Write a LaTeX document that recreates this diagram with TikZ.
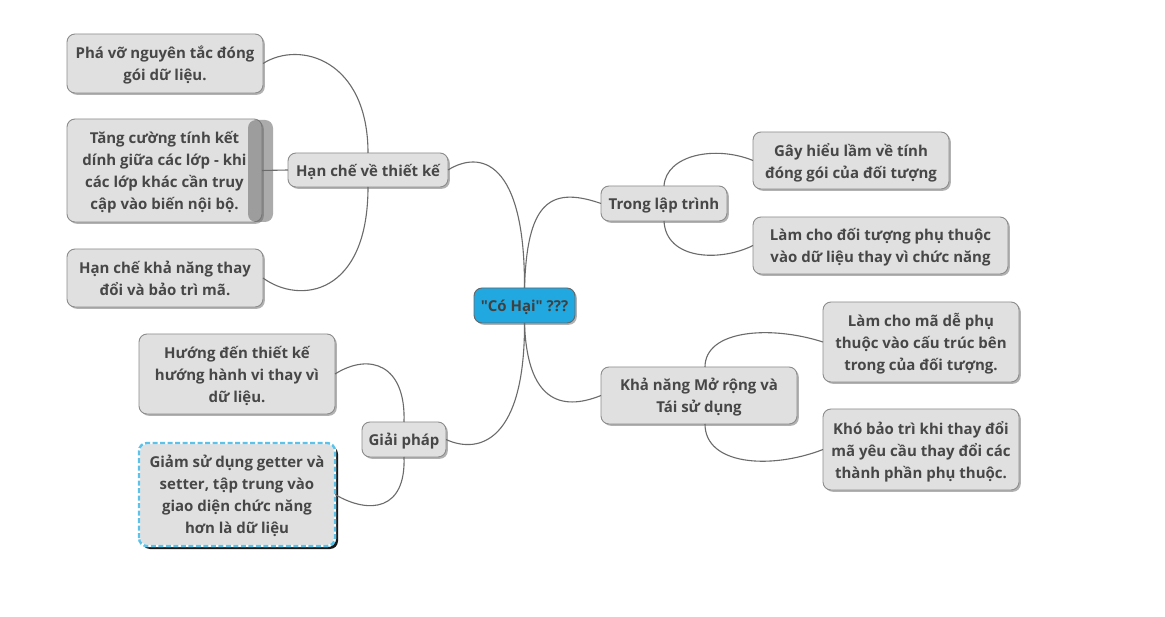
\documentclass[tikz,border=0pt]{standalone}
\usepackage{fontspec}
\setmainfont{Open Sans}[Ligatures=TeXOff]
\usetikzlibrary{shadows}
\definecolor{boxfill}{HTML}{E0E0E0}
\definecolor{boxline}{HTML}{8C8C8C}
\definecolor{txt}{HTML}{474747}
\definecolor{edgecol}{HTML}{6B6B6B}
\definecolor{rootfill}{HTML}{22A8E0}
\definecolor{selblue}{HTML}{5BC3EA}
\begin{document}
\begin{tikzpicture}[x=1pt,y=-1pt,
  box/.style={draw=boxline, line width=0.9pt, fill=boxfill, rounded corners=8pt,
    text=txt, font=\fontsize{15}{22}\selectfont\bfseries, align=center,
    inner sep=0pt, outer sep=0pt, text depth=0pt,
    drop shadow={shadow xshift=1.8pt, shadow yshift=-1.8pt, opacity=0.3, fill=black}},
  conn/.style={draw=edgecol, line width=1.1pt}]
\fill[white] (0,0) rectangle (1165,617);
\useasboundingbox (0,0) rectangle (1165,617);

\node[box, fill=rootfill, draw=black!60, minimum width=101pt, minimum height=35pt, text=black!75] (root) at (524.5,305.5) {"Có Hại" ???};
\node[box, minimum width=160pt, minimum height=34pt] (han) at (368,170) {Hạn chế về thiết kế};
\node[box, minimum width=196pt, minimum height=59pt] (pha) at (165,63.5) {Phá vỡ nguyên tắc đóng\\gói dữ liệu.};
\node[box, minimum width=195pt, minimum height=103pt] (tang) at (164.5,170.5) {Tăng cường tính kết\\dính giữa các lớp - khi\\các lớp khác cần truy\\cập vào biến nội bộ.};
\node[box, minimum width=196pt, minimum height=58pt] (hanche) at (165,278) {Hạn chế khả năng thay\\đổi và bảo trì mã.};
\node[box, minimum width=126pt, minimum height=35pt] (trong) at (664,203.5) {Trong lập trình};
\node[box, minimum width=196pt, minimum height=57pt] (gay) at (851,160.5) {Gây hiểu lầm về tính\\đóng gói của đối tượng};
\node[box, minimum width=255pt, minimum height=57pt] (lam) at (880.5,245.5) {Làm cho đối tượng phụ thuộc\\vào dữ liệu thay vì chức năng};
\node[box, minimum width=196pt, minimum height=57pt] (kha) at (699,395.5) {Khả năng Mở rộng và\\Tái sử dụng};
\node[box, minimum width=196pt, minimum height=80pt] (lamma) at (921,342) {Làm cho mã dễ phụ\\thuộc vào cấu trúc bên\\trong của đối tượng.};
\node[box, minimum width=196pt, minimum height=81pt] (kho) at (921,449.5) {Khó bảo trì khi thay đổi\\mã yêu cầu thay đổi các\\thành phần phụ thuộc.};
\node[box, minimum width=84pt, minimum height=35pt] (giai) at (404,439.5) {Giải pháp};
\node[box, minimum width=196pt, minimum height=80pt] (huong) at (237,374) {Hướng đến thiết kế\\hướng hành vi thay vì\\dữ liệu.};
\node[box, draw=white, line width=2.4pt, minimum width=196pt, minimum height=103pt,
  drop shadow={shadow xshift=3pt, shadow yshift=-3pt, opacity=1, fill=black!90}] (giam) at (237,494.5) {Giảm sử dụng getter và\\setter, tập trung vào\\giao diện chức năng\\hơn là dữ liệu};
\draw[selblue, line width=2.4pt, dash pattern=on 5pt off 2.5pt, rounded corners=8pt] (giam.south west) rectangle (giam.north east);

% selection band on "Tang cuong" node
\fill[black!60, opacity=0.55, rounded corners=8pt] (248,120) rectangle (273,222);

% connectors
\draw[conn] (root.north) .. controls (525,160) and (480,150) .. (han.east);
\draw[conn] (root.north) .. controls (527,205) and (548,185) .. (trong.west);
\draw[conn] (root.south) .. controls (525,440) and (480,455) .. (giai.east);
\draw[conn] (root.south) .. controls (527,400) and (560,412) .. (kha.west);
\draw[conn] (han.north) .. controls (368,60) and (300,40) .. (pha.east);
\draw[conn] (tang.east) -- (han.west);
\draw[conn] (han.south) .. controls (368,295) and (300,305) .. (hanche.east);
\draw[conn] (trong.north) .. controls (666,155) and (715,145) .. (gay.west);
\draw[conn] (trong.south) .. controls (666,260) and (720,262) .. (lam.west);
\draw[conn] ([xshift=6pt]kha.north) .. controls (705,330) and (770,325) .. (lamma.west);
\draw[conn] ([xshift=6pt]kha.south) .. controls (705,465) and (770,470) .. (kho.west);
\draw[conn] (giai.north) .. controls (406,365) and (370,352) .. (huong.east);
\draw[conn] (giai.south) .. controls (406,510) and (370,515) .. (giam.east);
\end{tikzpicture}
\end{document}
